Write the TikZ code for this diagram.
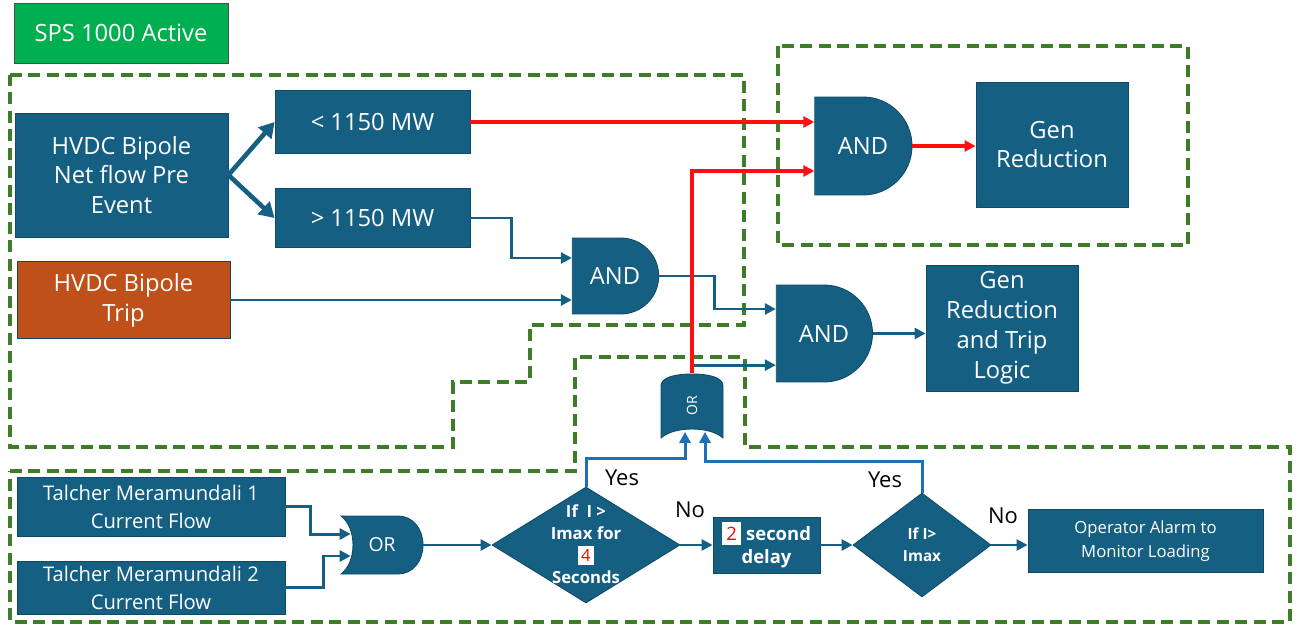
\documentclass[tikz,border=0pt]{standalone}
\usepackage{fontspec}
\setmainfont{Open Sans}
\usepackage{xcolor}
\usepackage{tikz}
\usetikzlibrary{arrows.meta,shapes.geometric,shapes.misc}

\definecolor{boxblue}{HTML}{156082}
\definecolor{boxline}{HTML}{0F4A66}
\definecolor{triporange}{HTML}{C0501A}
\definecolor{spsgreen}{HTML}{00B050}
\definecolor{zonegreen}{HTML}{3E7D27}
\definecolor{yesblue}{HTML}{1F6FB5}
\definecolor{flowred}{HTML}{FF1010}

\begin{document}
\begin{tikzpicture}[x=0.02cm, y=-0.02cm,
  block/.style={draw=boxline, line width=0.5pt, fill=boxblue, text=white,
    align=center, inner sep=1pt, font=\fontsize{13.5}{17}\selectfont},
  gate/.style={rounded rectangle, rounded rectangle west arc=none,
    draw=boxline, line width=0.5pt, fill=boxblue, text=white, inner sep=1pt,
    font=\fontsize{13.5}{16}\selectfont},
  gatebody/.style={fill=boxblue, draw=boxline, line width=0.5pt},
  gatetext/.style={text=white, inner sep=0pt},
  decision/.style={diamond, draw=boxline, line width=0.5pt, fill=boxblue,
    inner sep=0pt},
  dectext/.style={text=white, align=center, inner sep=0pt},
  conn/.style={-{Triangle[length=2.2mm,width=2.2mm]}, line width=1.7pt, draw=boxblue},
  bigconn/.style={-{Triangle[length=3mm,width=3.4mm]}, line width=2.6pt, draw=boxblue},
  redconn/.style={conn, line width=1.9pt, draw=flowred},
  yesconn/.style={conn, draw=yesblue},
  zone/.style={draw=zonegreen, line width=2pt, dash pattern=on 2.4mm off 1.3mm},
  lbl/.style={text=black, font=\fontsize{12.5}{15}\selectfont}
]
\useasboundingbox (0,0) rectangle (1297,628);

% dashed zones
\draw[zone] (10,75) -- (744,75) -- (744,325) -- (530,325) -- (530,382)
  -- (453,382) -- (453,447) -- (10,447) -- cycle;
\draw[zone] (778,46) rectangle (1188,245);
\draw[zone] (10,471) -- (575,471) -- (575,357) -- (745,357) -- (745,447)
  -- (1290,447) -- (1290,622) -- (10,622) -- cycle;

% upper blocks
\node[block, fill=spsgreen, draw=black!70, minimum width=4.28cm, minimum height=1.2cm] (sps) at (121,33) {SPS 1000 Active};
\node[block, minimum width=4.26cm, minimum height=2.48cm] (netflow) at (121.5,175) {HVDC Bipole\\Net flow Pre\\Event};
\node[block, minimum width=3.9cm, minimum height=1.26cm] (lt) at (372.5,122) {< 1150 MW};
\node[block, minimum width=3.9cm, minimum height=1.18cm] (gt) at (372.5,218) {> 1150 MW};
\node[block, fill=triporange, minimum width=4.26cm, minimum height=1.54cm] (trip) at (123.5,300) {HVDC Bipole\\Trip};

\node[gate, minimum width=1.8cm, minimum height=1.52cm] (and1) at (615,276) {AND};
\node[gate, minimum width=1.76cm, minimum height=1.96cm] (and2) at (863,146) {AND};
\node[gate, minimum width=1.8cm, minimum height=1.94cm] (and3) at (824,333.5) {AND};

\node[block, minimum width=3.04cm, minimum height=2.5cm] (genred) at (1052,144.5) {Gen\\Reduction};
\node[block, minimum width=3.04cm, minimum height=2.52cm] (gentrip) at (1002,328) {Gen\\Reduction\\and Trip\\Logic};

% vertical OR gate (outline first, then its node)
\filldraw[gatebody] (661,438) -- (661,386) .. controls (661,377) and (676,374) .. (692,374)
  .. controls (708,374) and (723,377) .. (723,386) -- (723,438)
  .. controls (710,426) and (674,426) .. (661,438) -- cycle;
\node[gatetext, rotate=90, minimum width=1.3cm, minimum height=1.24cm,
  font=\fontsize{8}{9}\selectfont] (orv) at (692,406) {OR};
\coordinate (orin1) at ([xshift=-0.14cm,yshift=0.14cm]orv.west);
\coordinate (orin2) at ([xshift=0.26cm,yshift=0.14cm]orv.west);

% lower blocks
\node[block, minimum width=5.36cm, minimum height=1.18cm, font=\fontsize{11.5}{16}\selectfont] (tm1) at (151,506.5) {Talcher Meramundali 1\\Current Flow};
\node[block, minimum width=5.36cm, minimum height=1.06cm, font=\fontsize{11.5}{16}\selectfont] (tm2) at (151,587.5) {Talcher Meramundali 2\\Current Flow};

\filldraw[gatebody] (341,516) -- (398,516) .. controls (413,516) and (423,529) .. (423,545)
  .. controls (423,561) and (413,574) .. (398,574) -- (341,574)
  .. controls (357,562) and (357,528) .. (341,516) -- cycle;
\node[gatetext, minimum width=1.64cm, minimum height=1.16cm,
  font=\fontsize{11}{13}\selectfont] (or1) at (382,545) {OR};

\node[decision, minimum width=3.76cm, minimum height=2.32cm] (dia1) at (586,545) {};
\node[dectext, font=\bfseries\fontsize{9.5}{12.5}\selectfont] (dia1txt) at (586,544)
  {If\ \ I >\\Imax for\\{\setlength{\fboxsep}{2pt}\colorbox{white}{\textcolor{red}{\mdseries 4}}}\\Seconds};
\node[block, minimum width=2.14cm, minimum height=1.12cm, font=\bfseries\fontsize{10.5}{13}\selectfont] (delay) at (766.5,545)
  {{\setlength{\fboxsep}{2.5pt}\colorbox{white}{\textcolor{red}{\mdseries 2}}} second\\delay};
\node[decision, minimum width=2.76cm, minimum height=2.08cm, text=white, align=center,
  font=\bfseries\fontsize{8.7}{12.5}\selectfont] (dia2) at (922,545) {If I>\\Imax};
\node[block, minimum width=4.7cm, minimum height=1.26cm, font=\fontsize{9.5}{14}\selectfont] (alarm) at (1145.5,541) {Operator Alarm to\\Monitor Loading};

% labels
\node[lbl] (yes1) at (622,478) {Yes};
\node[lbl] (no1) at (690,510) {No};
\node[lbl] (yes2) at (885,480) {Yes};
\node[lbl] (no2) at (1003,516) {No};

% connectors
\draw[bigconn] (netflow.east) -- (lt.west);
\draw[bigconn] (netflow.east) -- (gt.west);
\draw[conn] (gt.east) -- ++(41,0) |- ([yshift=0.36cm]and1.west);
\draw[conn] (trip.east) -- (trip.east -| and1.west);
\draw[conn] (and1.east) -- ++(55,0) |- ([yshift=0.49cm]and3.west);
\coordinate (tap) at ([yshift=0.16cm]orv.east);
\draw[conn] (tap) -- (tap -| and3.west);
\draw[conn] (and3.east) -- (and3.east -| gentrip.west);
\draw[conn] (tm1.east) -- ++(25,0) |- ([xshift=0.2cm,yshift=0.22cm]or1.west);
\draw[conn] (tm2.east) -- ++(38,0) |- ([xshift=0.2cm,yshift=-0.22cm]or1.west);
\draw[conn] (or1.east) -- (dia1.west);
\draw[yesconn] (dia1.north) -- ++(0,-28) -| (orin1);
\draw[conn] (dia1.east) -- (delay.west);
\draw[conn] (delay.east) -- (dia2.west);
\draw[yesconn] (dia2.north) -- ++(0,-31) -| (orin2);
\draw[conn] (dia2.east) -- (dia2.east -| alarm.west);
\draw[redconn] (lt.east) -- (lt.east -| and2.west);
\draw[redconn] (orv.east) |- ([yshift=-0.5cm]and2.west);
\draw[redconn] (and2.east) -- (and2.east -| genred.west);

\end{tikzpicture}
\end{document}
